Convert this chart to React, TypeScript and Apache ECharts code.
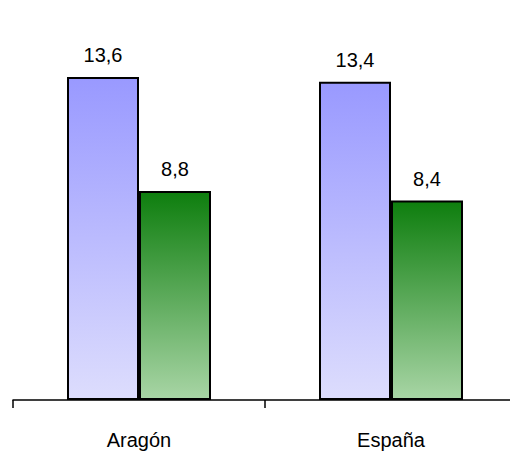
import React, { useEffect, useRef } from "react";
import * as echarts from "echarts";

const categories = ["Aragón", "España"];
const seriesA = [13.6, 13.4];
const seriesB = [8.8, 8.4];

export default function App() {
  const ref = useRef<HTMLDivElement>(null);
  useEffect(() => {
    const chart = echarts.init(ref.current!, null, { renderer: "svg" });
    const fmt = (p: any) => String(p.value).replace(".", ",");
    const labelStyle = {
      show: true,
      position: "top",
      distance: 12,
      color: "#000",
      fontSize: 20,
      fontFamily: "Liberation Sans, Arial, sans-serif",
      formatter: fmt,
    };
    chart.setOption({
      animation: false,
      grid: { left: 13, width: 504, top: 20, height: 380, outerBoundsMode: "none", containLabel: false },
      xAxis: {
        type: "category",
        data: categories,
        boundaryGap: true,
        axisLine: { lineStyle: { color: "#000", width: 1.5 } },
        axisTick: { show: true, length: 8, lineStyle: { color: "#000", width: 1.5 } },
        axisLabel: {
          margin: 30,
          color: "#000",
          fontSize: 20,
          fontFamily: "Liberation Sans, Arial, sans-serif",
        },
      },
      yAxis: { type: "value", min: 0, max: 16, show: false },
      series: [
        {
          type: "bar",
          data: seriesA,
          barWidth: 72,
          barGap: "0%",
          itemStyle: {
            borderColor: "#000",
            borderWidth: 2,
            color: new echarts.graphic.LinearGradient(0, 0, 0, 1, [
              { offset: 0, color: "#9999ff" },
              { offset: 1, color: "#ddddfd" },
            ]),
          },
          label: labelStyle,
        },
        {
          type: "bar",
          data: seriesB,
          barWidth: 72,
          barGap: "0%",
          itemStyle: {
            borderColor: "#000",
            borderWidth: 2,
            color: new echarts.graphic.LinearGradient(0, 0, 0, 1, [
              { offset: 0, color: "#0e7e0e" },
              { offset: 1, color: "#a8d5a5" },
            ]),
          },
          label: labelStyle,
        },
      ],
    });
    return () => chart.dispose();
  }, []);
  return (
    <div
      ref={ref}
      style={{ position: "fixed", left: 0, top: 0, width: 510, height: 452, background: "#fff" }}
    />
  );
}
